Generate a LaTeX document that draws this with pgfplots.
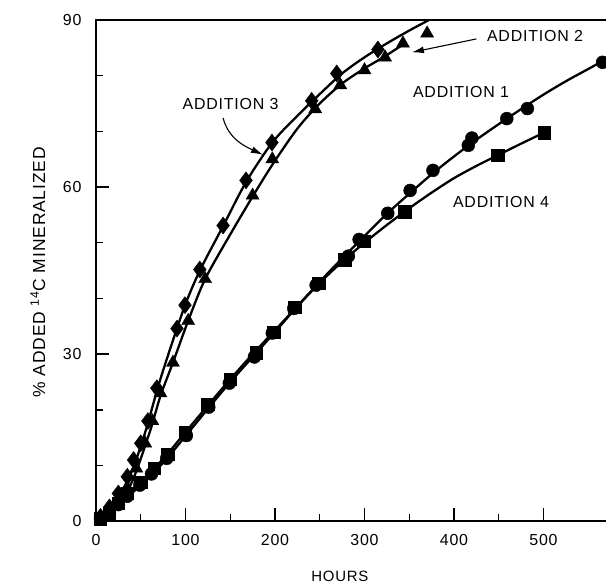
\documentclass[border=0pt]{standalone}
\usepackage{fontspec}
\setmainfont{Liberation Sans}[LetterSpace=5.0]
\usepackage{pgfplots}
\pgfplotsset{compat=1.18}
\usetikzlibrary{arrows.meta}
\begin{document}
\fontsize{16pt}{19pt}\selectfont
\begin{tikzpicture}
\begin{axis}[
  name=ax,
  scale only axis,
  width=514.6bp, height=501.3bp,
  xmin=0, xmax=575, ymin=0, ymax=90,
  axis line style={line width=1.8bp},
  tick pos=left,
  tick align=inside,
  xtick={0,100,200,300,400,500},
  ytick={0,30,60,90},
  minor x tick num=1,
  minor y tick num=2,
  major tick length=13bp,
  minor tick length=7bp,
  every tick/.style={black, line width=1.4bp},
  /pgf/number format/assume math mode=true,
  ticklabel style={font=\fontsize{16pt}{19pt}\selectfont},
  yticklabel style={xshift=-9bp},
  xticklabel style={yshift=-8bp},
  every axis x label/.style={at={(axis description cs:0.474,-0.1097)}, anchor=center},
  every axis y label/.style={at={(axis description cs:-0.1127,0.4967)}, anchor=center, rotate=90},
  xlabel={\fontsize{15pt}{18pt}\selectfont HOURS},
  ylabel={\fontsize{17.5pt}{20pt}\selectfont \% ADDED \textsuperscript{14}C MINERALIZED},
  clip=false,
]
% curves
\addplot[black, line width=2.3bp, smooth, tension=0.5] coordinates {
(0,0)(20,3)(40,9)(55,16)(70,24.5)(85,32)(100,39)(116,45)(142,53)(168,61)(197,68)(225,72.8)(250,76.7)(275,80.4)(300,83.3)(325,85.8)(350,88.1)(372,90)};
\addplot[black, line width=2.3bp, smooth, tension=0.5] coordinates {
(0,0)(20,2)(40,7)(60,16)(72,22.5)(86,28.5)(103,36)(122,43.5)(150,51.5)(175,58.3)(197,64)(225,70.5)(250,75)(275,78.6)(300,81.3)(323,83.5)(345,85.8)};
\addplot[black, line width=2.3bp, smooth, tension=0.5] coordinates {
(0,0)(25,3)(50,6.5)(75,10.5)(100,15.3)(125,20.2)(150,25)(175,29.5)(200,34)(225,38.6)(250,43)(275,47.2)(300,51.2)(325,55.2)(350,58.8)(375,62.3)(400,65.5)(425,68.5)(450,71.3)(475,74)(500,76.6)(525,79)(550,81.2)(575,83.4)};
\addplot[black, line width=2.3bp, smooth, tension=0.5] coordinates {
(0,0)(25,3.3)(50,7)(75,11.2)(100,16)(125,20.8)(150,25.5)(175,30)(200,34.3)(225,38.6)(250,42.8)(275,46.6)(300,50)(325,53.2)(350,56.2)(375,59)(400,61.6)(425,63.8)(450,65.8)(475,67.8)(501,69.8)};
% addition 3: diamonds
\addplot[only marks, mark=diamond*, mark size=8.5bp, black] coordinates {
(5,0.8)(15,2.5)(25,5)(35,8)(42,11)(50,14)(58,18)(68,23.9)(90.5,34.6)(99.4,38.8)(116,45.2)(142,53.1)(167.6,61.2)(196.6,68)(241,75.5)(269,80.4)(315,84.7)};
% addition 2: triangles
\addplot[only marks, mark=triangle*, mark size=7.5bp, black] coordinates {
(5,0.5)(15,1.5)(25,3.5)(35,6)(45,9.5)(55,14)(63,18)(72,23)(86,28.5)(103,36)(122,43.5)(175,58.5)(197,65)(245,74)(273,78.3)(300,81)(323,83.3)(343,85.8)(370,87.6)};
% addition 1: circles
\addplot[only marks, mark=*, mark size=6.5bp, black] coordinates {
(5,0.5)(15,1.5)(25,3)(35,4.5)(49,6.5)(62,8.5)(79,11.3)(101,15.4)(126,20.5)(149,24.8)(177,29.5)(197,33.8)(221,38.2)(246,42.4)(282,47.6)(294,50.6)(326,55.3)(351,59.4)(376.5,63)(416,67.5)(420,68.8)(459,72.3)(482,74.1)(566,82.4)};
% addition 4: squares
\addplot[only marks, mark=square*, mark size=6.2bp, black] coordinates {
(5,0.5)(15,1.5)(25,3.2)(35,5)(50,7)(65,9.5)(80,12)(100,16)(125,21)(150,25.5)(179,30.3)(198.5,34)(222,38.4)(249,42.7)(278,47)(299,50.3)(345,55.6)(449,65.7)(501,69.8)};
% annotations
\node at (axis cs:150.3,75) {ADDITION 3};
\node at (axis cs:490.5,87.2) {ADDITION 2};
\node at (axis cs:407.8,77) {ADDITION 1};
\node at (axis cs:452.5,57.4) {ADDITION 4};
\draw[line width=1.1bp, -{Latex[length=12bp,width=7bp]}] (axis cs:142,72.4) to[out=-75, in=155] (axis cs:186.6,65.8);
\draw[line width=1.1bp, -{Latex[length=12bp,width=7bp]}] (axis cs:425,86.6) -- (axis cs:353,84.2);
\end{axis}
\pgfresetboundingbox
\path[use as bounding box] ([xshift=-96bp,yshift=-62bp]ax.south west) rectangle ([xshift=510bp,yshift=20bp]ax.north west);
\end{tikzpicture}
\end{document}
